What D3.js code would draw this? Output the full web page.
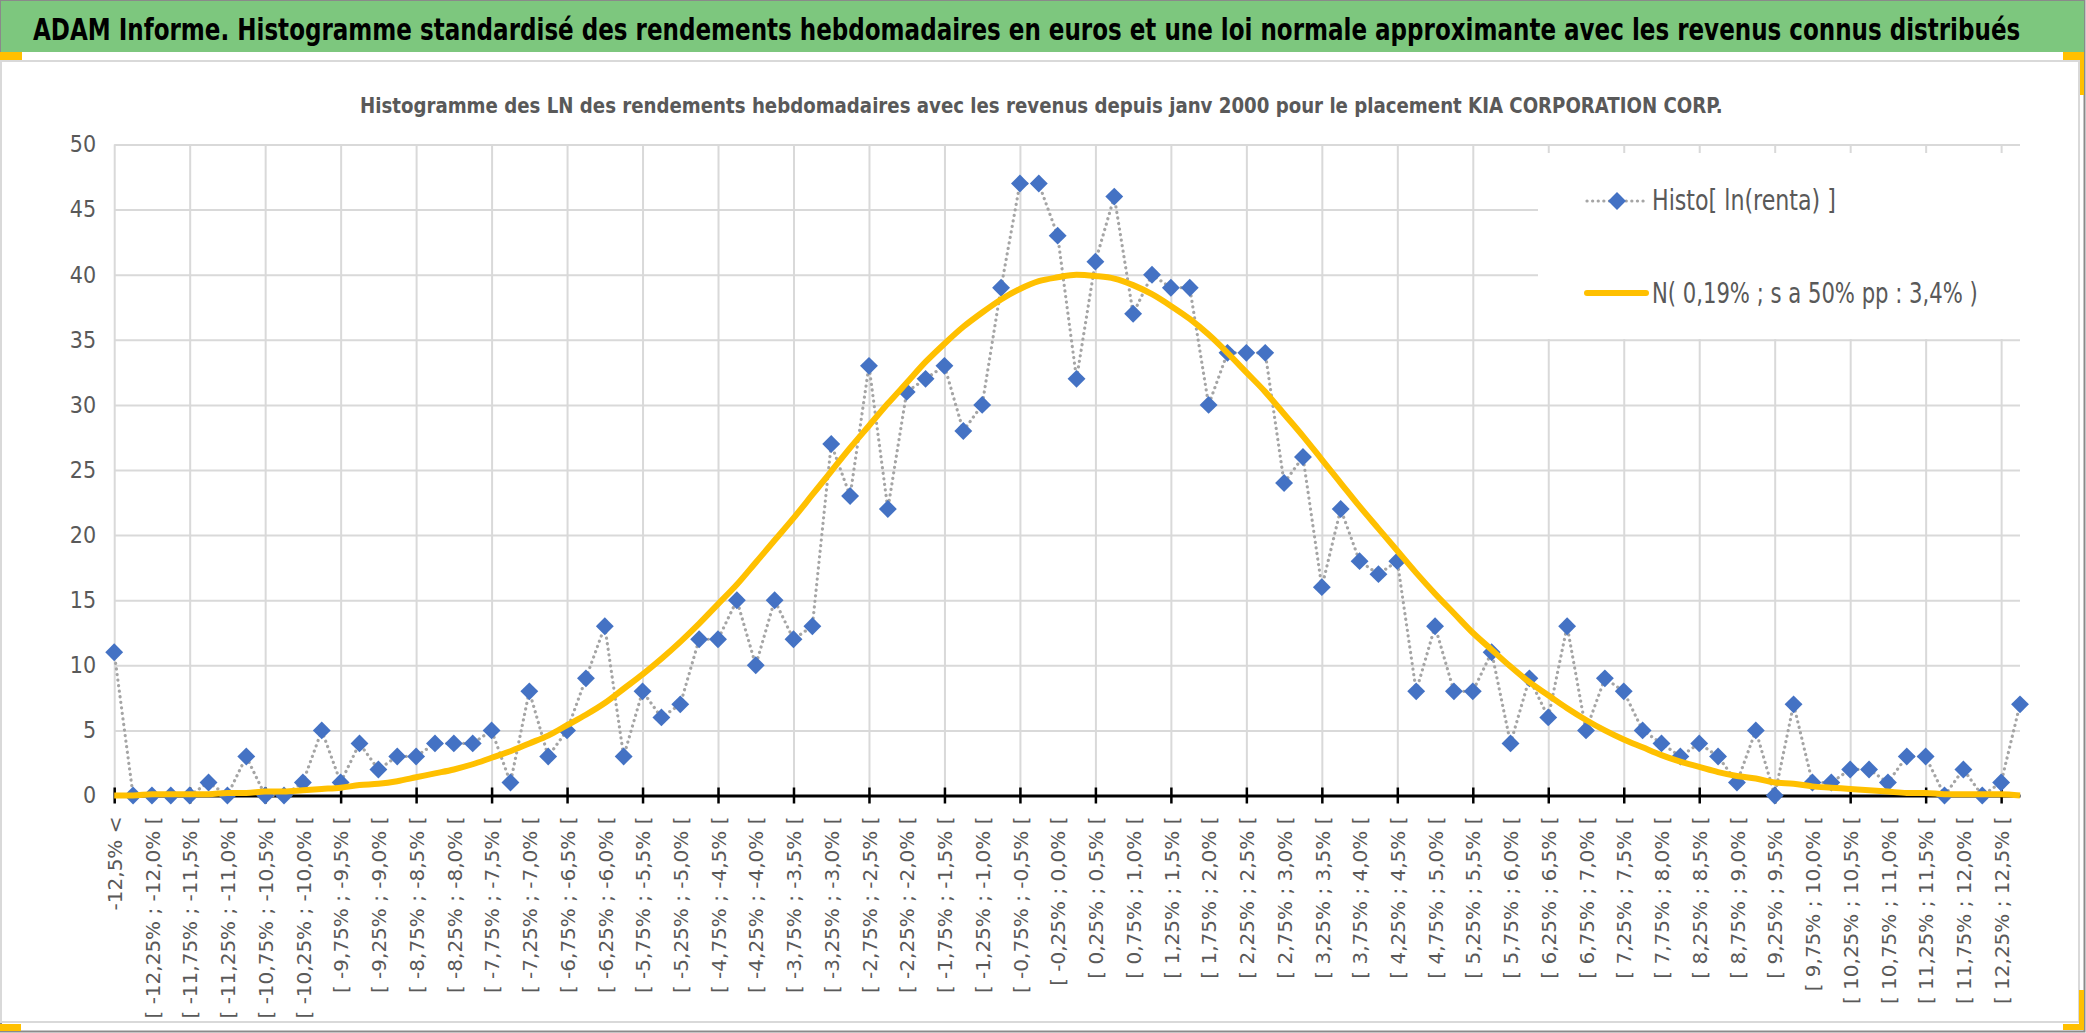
<!DOCTYPE html>
<html>
<head>
<meta charset="utf-8">
<script src="https://cdn.jsdelivr.net/npm/d3@7"></script>
<style>
  html, body { margin: 0; padding: 0; background: #ffffff; }
  svg { display: block; }
</style>
</head>
<body>
<div id="chart"></div>
<script>
// chart texts
var mainTitle = "ADAM Informe. Histogramme standardisé des rendements hebdomadaires en euros et une loi normale approximante avec les revenus connus distribués";
var subTitle = "Histogramme des LN des rendements hebdomadaires avec les revenus depuis janv 2000 pour le placement KIA CORPORATION CORP.";
var seriesNames = ["Histo[ ln(renta) ]", "N( 0,19% ; s a 50% pp : 3,4% )"];

// bin edges (in %) used for the category labels
var binEdges = ["-12,5", "-12,25", "-12,0", "-11,75", "-11,5", "-11,25", "-11,0", "-10,75", "-10,5", "-10,25",
    "-10,0", "-9,75", "-9,5", "-9,25", "-9,0", "-8,75", "-8,5", "-8,25", "-8,0", "-7,75",
    "-7,5", "-7,25", "-7,0", "-6,75", "-6,5", "-6,25", "-6,0", "-5,75", "-5,5", "-5,25",
    "-5,0", "-4,75", "-4,5", "-4,25", "-4,0", "-3,75", "-3,5", "-3,25", "-3,0", "-2,75",
    "-2,5", "-2,25", "-2,0", "-1,75", "-1,5", "-1,25", "-1,0", "-0,75", "-0,5", "-0,25",
    "0,0", "0,25", "0,5", "0,75", "1,0", "1,25", "1,5", "1,75", "2,0", "2,25",
    "2,5", "2,75", "3,0", "3,25", "3,5", "3,75", "4,0", "4,25", "4,5", "4,75",
    "5,0", "5,25", "5,5", "5,75", "6,0", "6,25", "6,5", "6,75", "7,0", "7,25",
    "7,5", "7,75", "8,0", "8,25", "8,5", "8,75", "9,0", "9,25", "9,5", "9,75",
    "10,0", "10,25", "10,5", "10,75", "11,0", "11,25", "11,5", "11,75", "12,0", "12,25",
    "12,5"];

// categories: "-12,5% <", then every bin "[ a% ; b% [", then "> 12,5%"
var categories = ["-12,5% <"];
for (var k = 1; k < binEdges.length; k++) {
    categories.push("[ " + binEdges[k - 1] + "% ; " + binEdges[k] + "% [");
}
categories.push("> 12,5%");

// weekly counts per bin
var histoValues = [
    11, 0, 0, 0, 0, 1, 0, 3, 0, 0,
    1, 5, 1, 4, 2, 3, 3, 4, 4, 4,
    5, 1, 8, 3, 5, 9, 13, 3, 8, 6,
    7, 12, 12, 15, 10, 15, 12, 13, 27, 23,
    33, 22, 31, 32, 33, 28, 30, 39, 47, 47,
    43, 32, 41, 46, 37, 40, 39, 39, 30, 34,
    34, 34, 24, 26, 16, 22, 18, 17, 18, 8,
    13, 8, 8, 11, 4, 9, 6, 13, 5, 9,
    8, 5, 4, 3, 4, 3, 1, 5, 0, 7,
    1, 1, 2, 2, 1, 3, 3, 0, 2, 0, 1, 7];

// approximating normal curve
var normalValues = [
    0.0, 0.0, 0.1, 0.1, 0.1, 0.1, 0.2, 0.2, 0.3, 0.3,
    0.4, 0.5, 0.6, 0.8, 0.9, 1.1, 1.4, 1.7, 2.0, 2.4,
    2.9, 3.4, 4.0, 4.6, 5.4, 6.2, 7.1, 8.2, 9.3, 10.5,
    11.8, 13.2, 14.7, 16.2, 17.9, 19.6, 21.3, 23.1, 24.9, 26.7,
    28.4, 30.1, 31.7, 33.3, 34.7, 36.0, 37.1, 38.1, 38.9, 39.5,
    39.8, 40.0, 39.9, 39.7, 39.2, 38.5, 37.6, 36.6, 35.4, 34.0,
    32.5, 31.0, 29.3, 27.6, 25.8, 24.0, 22.2, 20.5, 18.8, 17.1,
    15.5, 14.0, 12.5, 11.2, 9.9, 8.7, 7.7, 6.7, 5.8, 5.0,
    4.3, 3.7, 3.1, 2.6, 2.2, 1.8, 1.5, 1.3, 1.0, 0.9,
    0.7, 0.6, 0.5, 0.4, 0.3, 0.2, 0.2, 0.1, 0.1, 0.1, 0.1, 0.0];

var yTicks = [0, 5, 10, 15, 20, 25, 30, 35, 40, 45, 50];

// drawing area
var width = 2086;
var height = 1033;
var plot = {left: 114.2, right: 2020, top: 144.5, bottom: 795.5};
var narrowFont = "'Liberation Sans Narrow','DejaVu Sans Condensed','Roboto Condensed','Noto Sans',sans-serif";
var gray = "#595959";

var svg = d3.select("#chart").append("svg")
    .attr("width", width)
    .attr("height", height);

// squeeze a text horizontally (keeping its height) so that it spans the wanted width
function squeezeText(sel, px, py, wanted) {
    var w = sel.node().getComputedTextLength();
    var sx = w > 0 ? wanted / w : 1;
    sel.attr("x", 0).attr("y", 0)
        .attr("transform", "translate(" + px + "," + py + ") scale(" + sx.toFixed(4) + ",1)");
    return sel;
}

// frame, title bar and the orange selection marks
svg.append("rect")
    .attr("x", 1).attr("y", 1)
    .attr("width", width - 2.5).attr("height", height - 2.5)
    .attr("fill", "#ffffff")
    .attr("stroke", "#8a8a8a")
    .attr("stroke-width", 2);

svg.append("rect")
    .attr("x", 1).attr("y", 1)
    .attr("width", width - 3).attr("height", 51)
    .attr("fill", "#7dc77e");

svg.append("rect")
    .attr("x", 1).attr("y", 61)
    .attr("width", 2078).attr("height", 961)
    .attr("fill", "#ffffff")
    .attr("stroke", "#d9d9d9")
    .attr("stroke-width", 2);

var marks = [
    {x: 0, y: 52, w: 22, h: 8},
    {x: 2063, y: 52, w: 21, h: 8},
    {x: 2080, y: 52, w: 4, h: 43},
    {x: 0, y: 1024, w: 21, h: 7},
    {x: 2079, y: 990, w: 5, h: 40},
    {x: 2063, y: 1024, w: 21, h: 6}
];
svg.selectAll("rect.mark")
    .data(marks)
    .enter()
    .append("rect")
    .attr("class", "mark")
    .attr("x", function (d) { return d.x; })
    .attr("y", function (d) { return d.y; })
    .attr("width", function (d) { return d.w; })
    .attr("height", function (d) { return d.h; })
    .attr("fill", "#ffc000");

var titleText = svg.append("text")
    .style("font-family", narrowFont)
    .style("font-weight", "bold")
    .style("font-size", "31px")
    .style("fill", "#000000")
    .text(mainTitle);
squeezeText(titleText, 33, 40, 1988);

var subTitleText = svg.append("text")
    .style("font-family", narrowFont)
    .style("font-weight", "bold")
    .style("font-size", "22px")
    .style("fill", gray)
    .text(subTitle);
squeezeText(subTitleText, 360, 113, 1364);

// scales
var x = d3.scalePoint()
    .domain(categories)
    .range([plot.left, plot.right]);

var y = d3.scaleLinear()
    .domain([0, 50])
    .range([plot.bottom, plot.top]);

var chart = svg.append("g").attr("class", "chart");

// horizontal gridlines
chart.append("g")
    .attr("class", "grid y")
    .attr("transform", "translate(" + plot.left + ",0)")
    .call(d3.axisLeft(y).tickValues(yTicks).tickSize(-(plot.right - plot.left)).tickFormat(""))
    .call(function (g) { g.select(".domain").remove(); })
    .selectAll("line")
    .attr("stroke", "#d9d9d9")
    .attr("stroke-width", 2);

// vertical gridlines every 4 categories
var gridCats = categories.filter(function (d, i) { return i % 4 === 0; });
chart.append("g")
    .attr("class", "grid x")
    .attr("transform", "translate(0," + plot.bottom + ")")
    .call(d3.axisBottom(x).tickValues(gridCats).tickSize(-(plot.bottom - plot.top)).tickFormat(""))
    .call(function (g) { g.select(".domain").remove(); })
    .selectAll("line")
    .attr("stroke", "#d9d9d9")
    .attr("stroke-width", 2);

// y labels
chart.append("g")
    .attr("class", "axis y")
    .attr("transform", "translate(" + (plot.left - 18) + ",0)")
    .call(d3.axisLeft(y).tickValues(yTicks).tickSize(0).tickPadding(0))
    .call(function (g) { g.select(".domain").remove(); })
    .selectAll("text")
    .style("font-family", narrowFont)
    .style("font-size", "23px")
    .style("fill", gray);

// legend background hides the grid under it
svg.append("rect")
    .attr("x", 1538).attr("y", 153)
    .attr("width", 490).attr("height", 186)
    .attr("fill", "#ffffff");

// x axis line and crossing ticks
var xAxis = chart.append("g")
    .attr("class", "axis x")
    .attr("transform", "translate(0," + plot.bottom + ")")
    .call(d3.axisBottom(x).tickValues(gridCats).tickSizeInner(8).tickSizeOuter(0).tickFormat(""));
xAxis.select(".domain")
    .attr("stroke", "#000000")
    .attr("stroke-width", 3);
xAxis.selectAll(".tick line")
    .attr("y1", -8)
    .attr("stroke", "#000000")
    .attr("stroke-width", 2.5);

// category labels, every second category
var labelCats = categories.filter(function (d, i) { return i % 2 === 0 && i <= 100; });
chart.append("g")
    .attr("class", "axis labels")
    .attr("transform", "translate(0," + plot.bottom + ")")
    .call(d3.axisBottom(x).tickValues(labelCats).tickSize(0))
    .call(function (g) { g.select(".domain").remove(); })
    .selectAll("text")
    .attr("transform", "rotate(-90)")
    .attr("x", -21)
    .attr("y", 0)
    .attr("dy", "0.36em")
    .style("text-anchor", "end")
    .style("font-family", "'DejaVu Sans',Verdana,sans-serif")
    .style("font-size", "20px")
    .style("fill", gray);

// histogram series: dotted line with diamond markers
var histoData = categories.map(function (c, i) { return {cat: c, value: histoValues[i]}; });
var normalData = categories.map(function (c, i) { return {cat: c, value: normalValues[i]}; });

var line = d3.line()
    .x(function (d) { return x(d.cat); })
    .y(function (d) { return y(d.value); });

chart.append("path")
    .datum(histoData)
    .attr("fill", "none")
    .attr("stroke", "#a5a5a5")
    .attr("stroke-width", 3.2)
    .attr("stroke-linecap", "round")
    .attr("stroke-dasharray", "0.1 5.5")
    .attr("d", line);

var diamond = d3.symbol().type(d3.symbolSquare).size(160);

chart.selectAll("path.marker")
    .data(histoData)
    .enter()
    .append("path")
    .attr("class", "marker")
    .attr("d", diamond)
    .attr("transform", function (d) { return "translate(" + x(d.cat) + "," + y(d.value) + ") rotate(45)"; })
    .attr("fill", "#4472c4");

// normal curve
chart.append("path")
    .datum(normalData)
    .attr("fill", "none")
    .attr("stroke", "#ffc000")
    .attr("stroke-width", 6)
    .attr("stroke-linejoin", "round")
    .attr("d", line.curve(d3.curveMonotoneX));

// legend
var legend = svg.append("g").attr("class", "legend");

legend.append("line")
    .attr("x1", 1587).attr("x2", 1645)
    .attr("y1", 201).attr("y2", 201)
    .attr("stroke", "#a5a5a5")
    .attr("stroke-width", 3.2)
    .attr("stroke-linecap", "round")
    .attr("stroke-dasharray", "0.1 5.5");

legend.append("path")
    .attr("d", diamond)
    .attr("transform", "translate(1617,201) rotate(45)")
    .attr("fill", "#4472c4");

legend.append("line")
    .attr("x1", 1587).attr("x2", 1646)
    .attr("y1", 293).attr("y2", 293)
    .attr("stroke", "#ffc000")
    .attr("stroke-width", 6)
    .attr("stroke-linecap", "round");

var legendText = [
    {name: seriesNames[0], y: 210, len: 184},
    {name: seriesNames[1], y: 303, len: 326}
];
legend.selectAll("text")
    .data(legendText)
    .enter()
    .append("text")
    .style("font-family", narrowFont)
    .style("font-size", "28px")
    .style("fill", gray)
    .text(function (d) { return d.name; })
    .each(function (d) { squeezeText(d3.select(this), 1652, d.y, d.len); });
</script>
</body>
</html>
